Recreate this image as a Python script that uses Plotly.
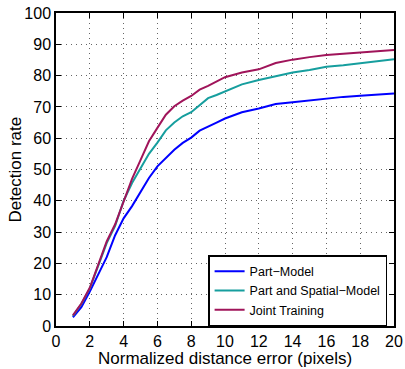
import plotly.graph_objects as go

x_vals = [1, 1.5, 2, 2.5, 3, 3.5, 4, 4.5, 5, 5.5, 6, 6.5, 7, 7.5, 8, 8.5, 9, 9.5, 10,
          11, 12, 13, 14, 15, 16, 17, 18, 19, 20]

part_model = [2.8, 6.0, 11.0, 16.3, 22.0, 29.0, 34.4, 38.3, 42.8, 47.3, 51.0, 53.8, 56.3, 58.5, 60.2, 62.4, 63.8, 65.0, 66.3,
              68.3, 69.5, 70.9, 71.5, 72.1, 72.7, 73.2, 73.6, 74.0, 74.3]
part_spatial = [3.2, 7.0, 12.0, 19.5, 26.5, 32.0, 40.0, 45.7, 50.5, 55.0, 58.6, 62.5, 65.0, 67.0, 68.3, 70.5, 72.8, 73.8, 75.0,
                77.2, 78.6, 79.8, 81.0, 81.8, 82.8, 83.3, 83.9, 84.5, 85.2]
joint_training = [3.4, 7.2, 12.2, 19.8, 27.0, 32.5, 40.0, 47.0, 53.0, 59.0, 63.3, 67.5, 70.2, 72.0, 73.5, 75.5, 76.7, 78.0, 79.5,
                  81.0, 82.0, 84.0, 85.1, 85.9, 86.6, 87.0, 87.3, 87.8, 88.2]

series_names = ["Part\u2212Model", "Part and Spatial\u2212Model", "Joint Training"]
series_colors = ["#0000ff", "#169e9e", "#a0145a"]

x_ticks = list(range(0, 21, 2))
y_ticks = list(range(0, 101, 10))

FONT = "Liberation Sans, Arial, Helvetica, sans-serif"

fig = go.Figure()
for name, ys, col in zip(series_names, [part_model, part_spatial, joint_training], series_colors):
    fig.add_trace(go.Scatter(x=x_vals, y=ys, mode="lines", name=name,
                             line=dict(color=col, width=2)))

axis_common = dict(
    showline=True, linecolor="black", linewidth=1.5, mirror="ticks",
    ticks="inside", ticklen=5, tickcolor="black",
    showgrid=True, gridcolor="#666666", griddash="1px,4px", gridwidth=1,
    zeroline=False, automargin=False, ticklabeloverflow="allow",
    tickfont=dict(family=FONT, size=16, color="black"),
)

fig.update_xaxes(range=[0, 20], tickvals=x_ticks, **axis_common)
fig.update_yaxes(range=[0, 100], tickvals=y_ticks, **axis_common)

fig.add_annotation(text="Normalized distance error (pixels)", xref="paper", yref="paper",
                   x=0.5, y=-0.105, xanchor="center", yanchor="middle", showarrow=False,
                   font=dict(family=FONT, size=17, color="black"))
fig.add_annotation(text="Detection rate", xref="paper", yref="paper",
                   x=-0.121, y=0.5, xanchor="center", yanchor="middle", showarrow=False,
                   textangle=-90, font=dict(family=FONT, size=17, color="black"))

fig.update_layout(
    width=405, height=369,
    margin=dict(l=56, r=11, t=13, b=43, autoexpand=False),
    paper_bgcolor="white", plot_bgcolor="white",
    showlegend=True,
    legend=dict(x=0.45, y=0.0, xanchor="left", yanchor="bottom",
                bgcolor="white", bordercolor="black", borderwidth=1.5,
                font=dict(family=FONT, size=12.5, color="black"),
                tracegroupgap=0, itemwidth=30),
)

# remove the browser's default 8px body margin so the figure sits at the window origin
fig.write_html("out.html", config={"displayModeBar": False},
               post_script="document.body.style.margin='0';document.body.style.overflow='hidden';")
